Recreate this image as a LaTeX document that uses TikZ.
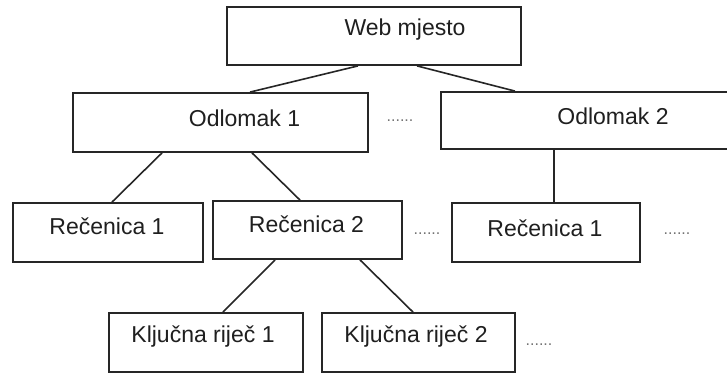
\documentclass[tikz,border=0pt]{standalone}
\usepackage{fontspec}
\setmainfont{Liberation Sans}
\usepackage{tikz}
\usetikzlibrary{positioning}

\begin{document}
\begin{tikzpicture}[x=1pt,y=-1pt,
  box/.style={draw=black!85,line width=1.8pt,inner sep=0pt},
  txt/.style={text=black!88,font=\fontsize{23}{27}\selectfont,inner sep=0pt},
  dots/.style={text=black!55,font=\fontsize{16}{18}\selectfont,inner sep=0pt,anchor=base},
  link/.style={draw=black!85,line width=1.6pt}]
\clip (0,0) rectangle (727,374);
\fill[white] (0,0) rectangle (727,374);

% top level
\node[box,minimum width=294,minimum height=58] (web) at (374,36) {};
\node[txt] (webtxt) at (405,30) {Web mjesto};

% paragraphs
\node[box,minimum width=295,minimum height=59] (odl1) at (220.5,122.5) {};
\node[txt] (odl1txt) at (244.5,118) {Odlomak 1};
\node[box,minimum width=295,minimum height=57] (odl2) at (588.5,120.5) {};
\node[txt] (odl2txt) at (613,116) {Odlomak 2};

% sentences
\node[box,minimum width=190,minimum height=59] (rec1) at (108,232.5) {};
\node[txt] (rec1txt) at (107,226) {Rečenica 1};
\node[box,minimum width=189,minimum height=58] (rec2) at (307.5,230) {};
\node[txt] (rec2txt) at (306.5,224) {Rečenica 2};
\node[box,minimum width=188,minimum height=59] (rec3) at (546,232.5) {};
\node[txt] (rec3txt) at (545,228) {Rečenica 1};

% keywords
\node[box,minimum width=194,minimum height=59] (klj1) at (206,342.5) {};
\node[txt] (klj1txt) at (203,337) {Ključna riječ 1};
\node[box,minimum width=193,minimum height=59] (klj2) at (418.5,342.5) {};
\node[txt] (klj2txt) at (416,337) {Ključna riječ 2};

% links
\draw[link] ([xshift=-16pt]web.south) -- ([xshift=29.5pt]odl1.north);
\draw[link] ([xshift=43pt]web.south) -- ([xshift=-73.5pt]odl2.north);
\draw[link] ([xshift=-58.5pt]odl1.south) -- ([xshift=4pt]rec1.north);
\draw[link] ([xshift=31.5pt]odl1.south) -- ([xshift=-7.5pt]rec2.north);
\draw[link] ([xshift=-34.5pt]odl2.south) -- ([xshift=8pt]rec3.north);
\draw[link] ([xshift=-32.5pt]rec2.south) -- ([xshift=17pt]klj1.north);
\draw[link] ([xshift=52.5pt]rec2.south) -- ([xshift=-5.5pt]klj2.north);

% more of the same
\node[dots] (dotsa) at (400,122) {......};
\node[dots] (dotsb) at (427,234) {......};
\node[dots] (dotsc) at (677,234) {......};
\node[dots] (dotsd) at (539,345) {......};
\end{tikzpicture}
\end{document}
